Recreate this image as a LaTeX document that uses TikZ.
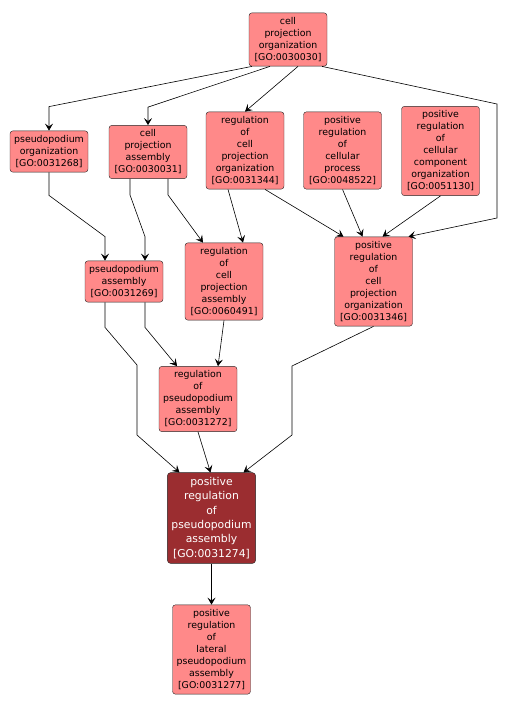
\documentclass[tikz,border=0pt]{standalone}
\usepackage{fontspec}
\setmainfont{DejaVu Sans}
\usepackage{xcolor}
\usetikzlibrary{arrows.meta}

\definecolor{goterm}{RGB}{255,137,137}
\definecolor{goquery}{RGB}{155,45,48}

\tikzset{
  term/.style={draw=black!85, fill=goterm, rounded corners=3pt, align=center,
    inner xsep=4pt, inner ysep=4.5pt, minimum width=78pt,
    font=\fontsize{9.4}{12}\selectfont},
  query/.style={term, fill=goquery, text=white,
    font=\fontsize{10.8}{14.4}\selectfont},
  arr/.style={-{Stealth[length=7pt,width=8pt,inset=3pt]}, black, line width=0.6pt}
}

\begin{document}
\begin{tikzpicture}[x=1pt,y=-1pt]
	\useasboundingbox (0,0) rectangle (509,710);

	\node[term] (cpo) at (288,39.5) {cell\\projection\\organization\\{[GO:0030030]}};
	\node[term] (po) at (49,151.5) {pseudopodium\\organization\\{[GO:0031268]}};
	\node[term] (cpa) at (148,152) {cell\\projection\\assembly\\{[GO:0030031]}};
	\node[term] (rcpo) at (245,150.5) {regulation\\of\\cell\\projection\\organization\\{[GO:0031344]}};
	\node[term] (prcp) at (342.5,150.5) {positive\\regulation\\of\\cellular\\process\\{[GO:0048522]}};
	\node[term] (prcco) at (440.5,151) {positive\\regulation\\of\\cellular\\component\\organization\\{[GO:0051130]}};
	\node[term] (pa) at (124,281.5) {pseudopodium\\assembly\\{[GO:0031269]}};
	\node[term] (rcpa) at (224,281.5) {regulation\\of\\cell\\projection\\assembly\\{[GO:0060491]}};
	\node[term] (prcpo) at (373.5,281.5) {positive\\regulation\\of\\cell\\projection\\organization\\{[GO:0031346]}};
	\node[term] (rpa) at (198,399) {regulation\\of\\pseudopodium\\assembly\\{[GO:0031272]}};
	\node[query] (prpa) at (211.5,518) {positive\\regulation\\of\\pseudopodium\\assembly\\{[GO:0031274]}};
	\node[term] (prlpa) at (211.5,649.5) {positive\\regulation\\of\\lateral\\pseudopodium\\assembly\\{[GO:0031277]}};

	% edges
	\draw[arr] ([xshift=-36]cpo.south) -- ([yshift=24]po.north) -- (po.north);
	\draw[arr] ([xshift=-18]cpo.south) -- ([yshift=18]cpa.north) -- (cpa.north);
	\draw[arr] ([xshift=10]cpo.south) -- (rcpo.north);
	\draw[arr] ([xshift=34]cpo.south) -- (497,104) -- (497,218) -- ([xshift=35]prcpo.north);
	\draw[arr] (po.south) -- ++(0,23) -- ([xshift=-19,yshift=24]pa.north) -- ([xshift=-19]pa.north);
	\draw[arr] ([xshift=-18]cpa.south) -- ++(0,16) -- ([xshift=21,yshift=24]pa.north) -- ([xshift=21]pa.north);
	\draw[arr] ([xshift=20]cpa.south) -- ++(0,16) -- ([xshift=-21]rcpa.north);
	\draw[arr] ([xshift=-17]rcpo.south) -- ([xshift=19]rcpa.north);
	\draw[arr] ([xshift=20]rcpo.south) -- ([xshift=-30]prcpo.north);
	\draw[arr] (prcp.south) -- ([xshift=-11]prcpo.north);
	\draw[arr] (prcco.south) -- ([xshift=9]prcpo.north);
	\draw[arr] ([xshift=21]pa.south) -- ++(0,25) -- ([xshift=-21]rpa.north);
	\draw[arr] ([xshift=-19]pa.south) -- ++(0,25) -- (137,365) -- (137,435) -- ([xshift=-32]prpa.north);
	\draw[arr] (rcpa.south) -- ([xshift=20]rpa.north);
	\draw[arr] (rpa.south) -- ([xshift=-1]prpa.north);
	\draw[arr] (prcpo.south) -- (292,366) -- (292,435) -- ([xshift=32]prpa.north);
	\draw[arr] (prpa.south) -- (prlpa.north);
\end{tikzpicture}
\end{document}
